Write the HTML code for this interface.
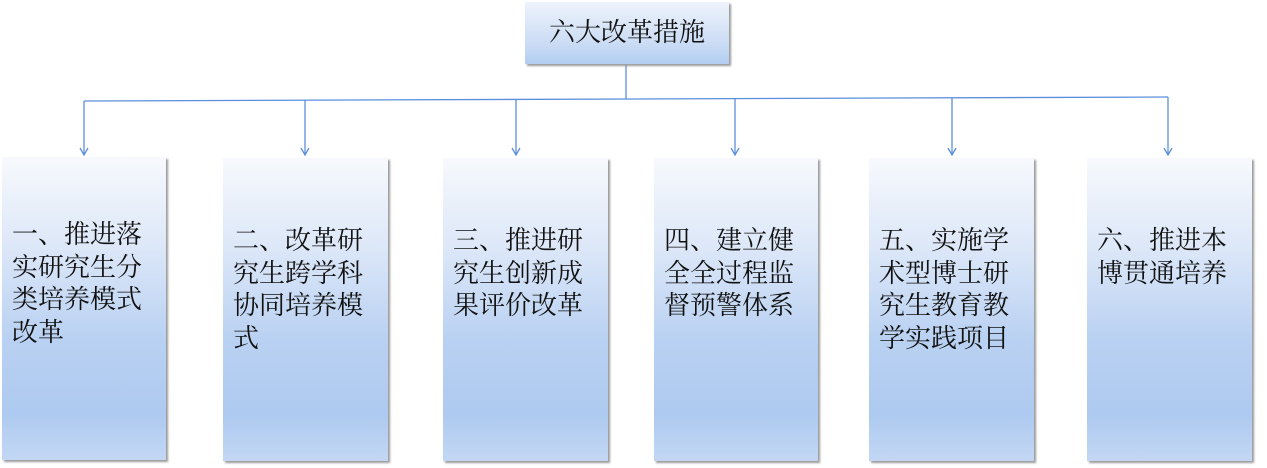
<!DOCTYPE html>
<html><head><meta charset="utf-8"><style>
body{margin:0;width:1267px;height:468px;background:#fff;position:relative;overflow:hidden;font-family:"Liberation Serif","Noto Serif CJK SC","Noto Sans CJK SC",serif;}
.b{position:absolute;background:linear-gradient(to bottom,#f7f9fd 0%,#dce7f8 30%,#b9d1f2 60%,#aecaf0 85%,#c3d7f4 100%);box-shadow:2px 2px 2px #9a9a9a;color:#111;}
.t{position:absolute;left:10px;width:145px;font-size:26px;line-height:32.5px;letter-spacing:0px;}
.top{left:525px;top:2px;width:204px;height:62px;font-size:26px;text-align:center;line-height:62px;background:linear-gradient(to bottom,#eef3fb,#c9dbf4 70%,#b2cdf1);}
</style></head><body>
<svg width="1267" height="468" style="position:absolute;left:0;top:0">
<g stroke="#5b8fdc" stroke-width="1.3" fill="none">
<line x1="626" y1="64" x2="626" y2="99"/>
<line x1="84" y1="101" x2="1168" y2="97"/>
<line x1="84" y1="101" x2="84" y2="155"/>
<line x1="305" y1="100" x2="305" y2="155"/>
<line x1="516" y1="99" x2="516" y2="155"/>
<line x1="735" y1="99" x2="735" y2="155"/>
<line x1="952" y1="98" x2="952" y2="155"/>
<line x1="1168" y1="97" x2="1168" y2="155"/>
<polyline points="80,148 84,155 88,148"/>
<polyline points="301,148 305,155 309,148"/>
<polyline points="512,148 516,155 520,148"/>
<polyline points="731,148 735,155 739,148"/>
<polyline points="948,148 952,155 956,148"/>
<polyline points="1164,148 1168,155 1172,148"/>
</g></svg>
<div class="b top">六大改革措施</div>
<div class="b" style="left:2px;top:157px;width:164px;height:303px"><div class="t" style="top:62px">一、推进落<br>实研究生分<br>类培养模式<br>改革</div></div>
<div class="b" style="left:223px;top:158px;width:165px;height:303px"><div class="t" style="top:67px">二、改革研<br>究生跨学科<br>协同培养模<br>式</div></div>
<div class="b" style="left:443px;top:158px;width:165px;height:303px"><div class="t" style="top:67px">三、推进研<br>究生创新成<br>果评价改革</div></div>
<div class="b" style="left:654px;top:158px;width:164px;height:303px"><div class="t" style="top:67px">四、建立健<br>全全过程监<br>督预警体系</div></div>
<div class="b" style="left:869px;top:158px;width:165px;height:303px"><div class="t" style="top:67px">五、实施学<br>术型博士研<br>究生教育教<br>学实践项目</div></div>
<div class="b" style="left:1087px;top:158px;width:165px;height:303px"><div class="t" style="top:67px">六、推进本<br>博贯通培养</div></div>
</body></html>
